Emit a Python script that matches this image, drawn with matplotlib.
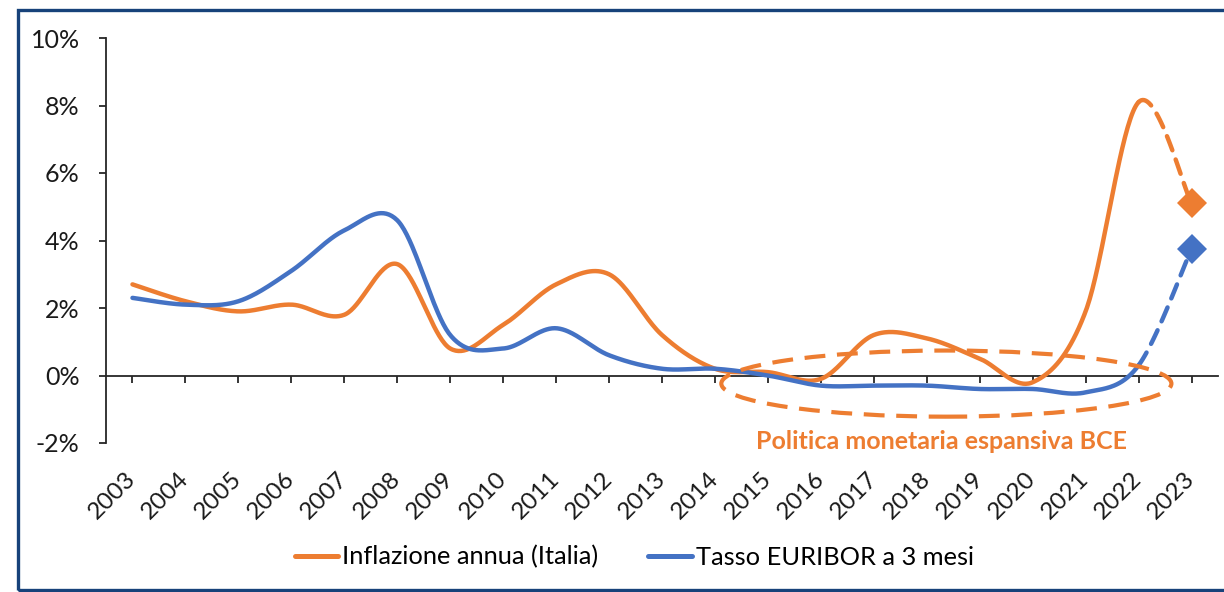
import numpy as np
import matplotlib
matplotlib.use("Agg")
import matplotlib.pyplot as plt
from matplotlib.patches import Ellipse, Rectangle
from matplotlib.lines import Line2D

plt.rcParams['font.family'] = ['Lato', 'DejaVu Sans']

years = [str(y) for y in range(2003, 2024)]
inflazione = [2.7, 2.2, 1.9, 2.1, 1.8, 3.3, 0.8, 1.5, 2.7, 3.0, 1.2, 0.2, 0.1, -0.1,
              1.2, 1.1, 0.5, -0.2, 1.9, 8.1, 5.1]
euribor = [2.3, 2.1, 2.2, 3.1, 4.3, 4.6, 1.2, 0.8, 1.4, 0.6, 0.2, 0.2, 0.0, -0.3,
           -0.3, -0.3, -0.4, -0.4, -0.5, 0.3, 3.75]
yticks = [-2, 0, 2, 4, 6, 8, 10]
labels = ["Inflazione annua (Italia)", "Tasso EURIBOR a 3 mesi"]
annot = "Politica monetaria espansiva BCE"

ORANGE = '#ED7D31'
BLUE = '#4472C4'
AXC = '#262626'
TXT = '#1a1a1a'


def smooth(vals, n=40):
    x = np.arange(len(vals), dtype=float)
    P = np.column_stack([x, np.asarray(vals, dtype=float)])
    Pm = np.vstack([P[0], P, P[-1]])
    segs = []
    t = np.linspace(0, 1, n)[:, None]
    for i in range(len(P) - 1):
        p0, p1, p2, p3 = Pm[i], Pm[i + 1], Pm[i + 2], Pm[i + 3]
        c1 = p1 + (p2 - p0) / 6
        c2 = p2 - (p3 - p1) / 6
        B = (1 - t) ** 3 * p1 + 3 * (1 - t) ** 2 * t * c1 + 3 * (1 - t) * t ** 2 * c2 + t ** 3 * p2
        segs.append(B)
    return segs


W, H = 1224, 592
fig = plt.figure(figsize=(W / 100, H / 100), dpi=100)
ax = fig.add_axes([106 / W, 1 - 443 / H, (1218 - 106) / W, (443 - 38) / H])

# spines first (set_position resets tick label styles)
for s in ['top', 'right']:
    ax.spines[s].set_visible(False)
ax.spines['bottom'].set_position(('data', 0))
for s in ['bottom', 'left']:
    ax.spines[s].set_color(AXC)
    ax.spines[s].set_linewidth(1.3)

lw = 3.2
for vals, col, z in [(inflazione, ORANGE, 3), (euribor, BLUE, 4)]:
    segs = smooth(vals)
    solid = np.vstack(segs[:-1])
    ax.plot(solid[:, 0], solid[:, 1], color=col, lw=lw, solid_capstyle='round', zorder=z)
    last = segs[-1]
    ax.plot(last[:, 0], last[:, 1], color=col, lw=lw, dashes=(3.4, 2.2),
            dash_capstyle='round', zorder=z)
    ax.plot([len(vals) - 1], [vals[-1]], marker='D', markersize=15, color=col,
            markeredgewidth=0, zorder=z + 1)

# dashed ellipse annotation
ell = Ellipse((15.37, -0.24), 8.5, 1.96, fill=False, edgecolor=ORANGE, lw=3.0,
              linestyle=(0, (5, 2.8)), zorder=6)
ax.add_patch(ell)
ax.text(15.28, -1.96, annot, color=ORANGE, fontsize=18, fontweight='bold',
        ha='center', va='center', zorder=7)

ax.set_xlim(-0.5, len(years) - 0.5)
ax.set_ylim(-2, 10)
ax.set_yticks(yticks)
ax.set_yticklabels([f"{v}%" for v in yticks], fontsize=18, color=TXT)
ax.set_xticks(range(len(years)))
ax.set_xticklabels(years, rotation=45, ha='right', va='center',
                   rotation_mode='anchor', fontsize=17.5, color=TXT)

ax.tick_params(axis='y', direction='out', length=5, width=1.3, color=AXC, pad=14)
ax.tick_params(axis='x', direction='out', length=5, width=1.3, color=AXC, pad=67)
ax.patch.set_alpha(0)

handles = [Line2D([], [], color=ORANGE, lw=3.6, solid_capstyle='round'),
           Line2D([], [], color=BLUE, lw=3.6, solid_capstyle='round')]
fig.legend(handles, labels, loc='center', bbox_to_anchor=(634 / W, 1 - 557 / H),
           ncol=2, frameon=False, fontsize=18.3, handlelength=1.7, handletextpad=0.15,
           columnspacing=2.0)

# outer frame
fig.patches.append(Rectangle((18 / W, 1 - 590 / H), 1.1, (590 - 10) / H,
                             transform=fig.transFigure, fill=False,
                             edgecolor='#17427A', lw=2.4, zorder=0))

fig.savefig('out.png', dpi=100)
